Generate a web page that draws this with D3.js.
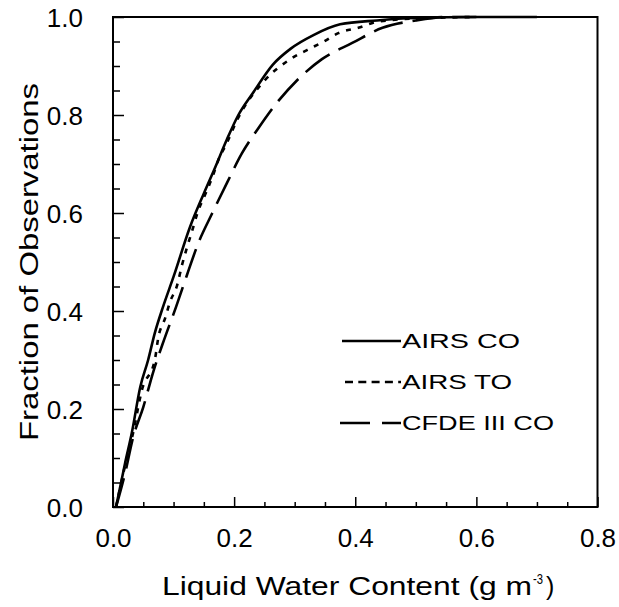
<!DOCTYPE html>
<html><head><meta charset="utf-8">
<script src="https://cdn.jsdelivr.net/npm/d3@7"></script>
<style>
html,body{margin:0;padding:0;background:#fff;}
svg{display:block;font-family:"Liberation Sans",Arial,Helvetica,sans-serif;}
</style></head>
<body>
<svg id="c" width="619" height="607"></svg>
<script>
// ---- data ----
const seriesNames = ["AIRS CO", "AIRS TO", "CFDE III CO"];
const airsCoLwc  = [0.005,0.02,0.031,0.045,0.058,0.069,0.083,0.10,0.127,0.15,0.169,0.188,0.207,0.231,0.264,0.293,0.331,0.375,0.436,0.5,0.6,0.7];
const airsCoFrac = [0,0.09,0.151,0.245,0.30,0.355,0.41,0.47,0.571,0.64,0.694,0.75,0.80,0.845,0.903,0.935,0.963,0.985,0.993,0.998,1.0,1.0];
const airsToLwc  = [0.005,0.02,0.033,0.048,0.069,0.075,0.086,0.094,0.106,0.114,0.122,0.131,0.140,0.152,0.164,0.174,0.188,0.205,0.25,0.293,0.321,0.347,0.372,0.405,0.436,0.5,0.6];
const airsToFrac = [0,0.085,0.15,0.24,0.30,0.347,0.385,0.418,0.453,0.494,0.529,0.565,0.602,0.637,0.673,0.708,0.743,0.79,0.87,0.914,0.933,0.949,0.967,0.978,0.99,0.997,1.0];
const cfdeLwc    = [0.005,0.02,0.033,0.05,0.067,0.084,0.104,0.122,0.141,0.164,0.188,0.213,0.240,0.270,0.304,0.345,0.395,0.445,0.5,0.55,0.6];
const cfdeFrac   = [0,0.069,0.141,0.204,0.278,0.34,0.408,0.473,0.539,0.60,0.661,0.722,0.773,0.824,0.871,0.914,0.947,0.978,0.993,1.0,1.0];
const xTicks = [0,0.2,0.4,0.6,0.8];
const yTicks = [0,0.2,0.4,0.6,0.8,1.0];
const xLabel = "Liquid Water Content (g m";
const yLabel = "Fraction of Observations";

// ---- drawing ----
const svg = d3.select("#c");
const x = d3.scaleLinear().domain([0,0.8]).range([113,597.5]);
const y = d3.scaleLinear().domain([0,1]).range([507,17]);
const font = '"Liberation Sans",Arial,Helvetica,sans-serif';

// frame
svg.append("rect").attr("x",x(0)).attr("y",y(1)).attr("width",x(0.8)-x(0)).attr("height",y(0)-y(1))
  .attr("fill","none").attr("stroke","#000").attr("stroke-width",2);

// minor ticks
const xMinor = d3.range(0,0.8001,0.05).filter(v=>Math.abs(v/0.2-Math.round(v/0.2))>1e-6);
const yMinor = d3.range(0,1.0001,0.05).filter(v=>Math.abs(v/0.2-Math.round(v/0.2))>1e-6);
svg.append("g").attr("transform",`translate(0,${y(0)})`)
  .call(d3.axisBottom(x).tickValues(xMinor).tickSize(-5).tickFormat(""))
  .call(g=>g.select(".domain").remove())
  .selectAll("line").attr("stroke-width",1.5);
svg.append("g").attr("transform",`translate(${x(0)},0)`)
  .call(d3.axisLeft(y).tickValues(yMinor).tickSize(-7).tickFormat(""))
  .call(g=>g.select(".domain").remove())
  .selectAll("line").attr("stroke-width",1.5);

// major axes
const gx = svg.append("g").attr("transform",`translate(0,${y(0)})`)
  .call(d3.axisBottom(x).tickValues(xTicks).tickSize(-10).tickPadding(30).tickFormat(d3.format(".1f")));
gx.select(".domain").remove();
gx.selectAll("line").attr("stroke-width",1.5);
gx.selectAll("text").attr("font-size",26).attr("font-family",font).attr("fill","#000").attr("dy",0).attr("y",40);

const gy = svg.append("g").attr("transform",`translate(${x(0)},0)`)
  .call(d3.axisLeft(y).tickValues(yTicks).tickSize(-11).tickPadding(30).tickFormat(d3.format(".1f")));
gy.select(".domain").remove();
gy.selectAll("line").attr("stroke-width",1.5);
gy.selectAll("text").attr("font-size",26).attr("font-family",font).attr("fill","#000").attr("dy","0.36em");

// axis titles
svg.append("text").attr("x",162).attr("y",595).attr("font-size",25)
  .attr("textLength",370).attr("lengthAdjust","spacingAndGlyphs").text(xLabel);
svg.append("text").attr("x",533).attr("y",584).attr("font-size",14)
  .attr("textLength",10).attr("lengthAdjust","spacingAndGlyphs").text("-3");
svg.append("text").attr("x",546).attr("y",595).attr("font-size",25).text(")");

svg.append("text").attr("transform","translate(38,262) rotate(-90)").attr("text-anchor","middle")
  .attr("font-size",25).attr("textLength",358).attr("lengthAdjust","spacingAndGlyphs").text(yLabel);

// curves
const line = d3.line().x(d=>x(d[0])).y(d=>y(d[1])).curve(d3.curveMonotoneX);
const series = [
  {name:seriesNames[0], lwc:airsCoLwc, frac:airsCoFrac, dash:null},
  {name:seriesNames[1], lwc:airsToLwc, frac:airsToFrac, dash:"5,7"},
  {name:seriesNames[2], lwc:cfdeLwc,   frac:cfdeFrac,   dash:"30,10"}
];
series.forEach(s=>{
  svg.append("path").datum(d3.zip(s.lwc,s.frac)).attr("d",line)
    .attr("fill","none").attr("stroke","#000").attr("stroke-width",2.6)
    .attr("stroke-dasharray",s.dash);
});

// legend
const legY = [341,382,423];
const legW = [118,110,152];
const legX1 = [342,345,340];
const legDash = [null,"8,5.3","30,12"];
series.forEach((s,i)=>{
  svg.append("line").attr("x1",legX1[i]).attr("x2",401).attr("y1",legY[i]).attr("y2",legY[i])
    .attr("stroke","#000").attr("stroke-width",2.4)
    .attr("stroke-dasharray", legDash[i]);
  svg.append("text").attr("x",402).attr("y",legY[i]+7).attr("font-size",20)
    .attr("textLength",legW[i]).attr("lengthAdjust","spacingAndGlyphs").text(s.name);
});
</script>
</body></html>
